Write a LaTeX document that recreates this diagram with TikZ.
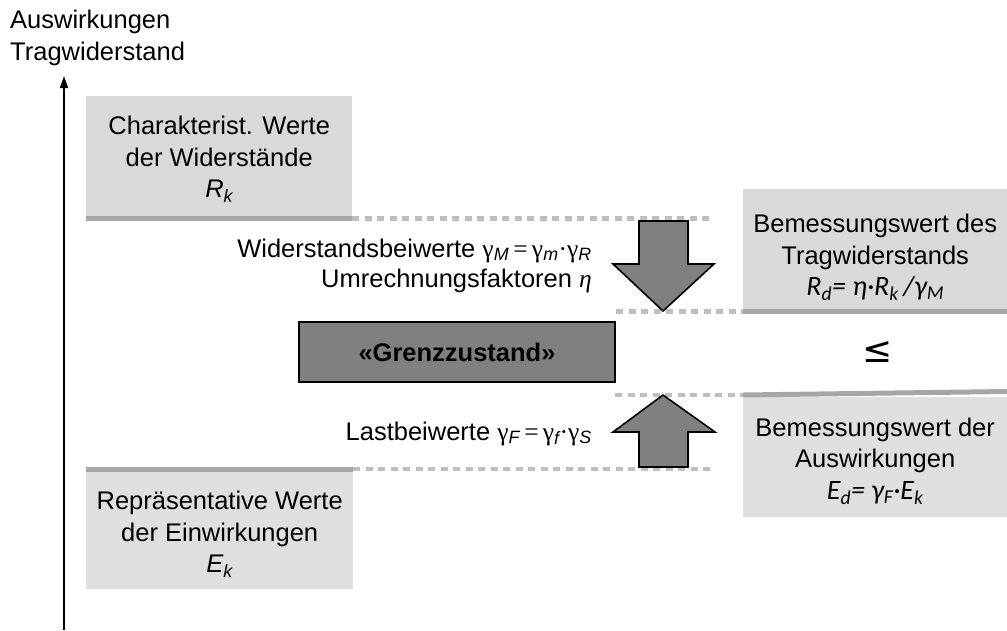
\documentclass[tikz,border=0pt]{standalone}
\usepackage{fontspec}
\setmainfont{Liberation Sans}
\newfontfamily\gfont{Liberation Serif}
\newfontfamily\cfont{Carlito}
\newfontfamily\dvfont{DejaVu Sans}
\usetikzlibrary{arrows.meta}
\definecolor{boxgray}{HTML}{D9D9D9}
\definecolor{boxgraylt}{HTML}{DFDFDF}
\definecolor{bargray}{HTML}{A6A6A6}
\definecolor{dotgray}{HTML}{BFBFBF}
\definecolor{arrgray}{HTML}{808080}
\newcommand{\gsym}[1]{{\gfont γ}\textsubscript{\itshape #1}}
\tikzset{
  txt/.style={font=\fontsize{25.5}{31.5}\selectfont, align=center, inner sep=0pt},
  valbox/.style={fill=boxgray, draw=none, inner sep=0pt, minimum width=#1},
  bar/.style={draw=bargray, line width=5pt},
  dotline/.style={draw=dotgray, line width=4.5pt, dash pattern=on 7pt off 5.5pt},
  blockarrow/.style={fill=arrgray, draw=black, line width=1.6pt, line join=miter},
  formula/.style={font=\cfont\itshape\fontsize{28}{31.5}\selectfont},
}
\begin{document}
\begin{tikzpicture}[x=1pt,y=-1pt]
\useasboundingbox (0,0) rectangle (1007,630);

% axis
\coordinate (axbot) at (64,630);
\coordinate (axtop) at (64,76);
\draw[line width=1.6pt, -{Triangle[length=12pt,width=8pt]}] (axbot) -- (axtop);
\node[txt, anchor=north west, align=left] (title) at (10,10) {Auswirkungen\\Tragwiderstand};

% top-left box
\node[valbox=266, fill=boxgray, minimum height=120, anchor=north west] (rk) at (86,96) {};
\node[txt] (rktxt) at ([yshift=-3pt]rk.center) {Charakterist. Werte\\der Widerstände\\{\itshape R\textsubscript{k}}};
\coordinate (rkbarL) at (86,218.5);
\coordinate (rkbarR) at (352,218.5);
\coordinate (rkdotR) at (712,218.5);
\draw[dotline] (rkbarR) -- (rkdotR);
\draw[bar] (rkbarL) -- (rkbarR);

% top-right box
\node[valbox=264, fill=boxgray, minimum height=121, anchor=north west] (rd) at (743,189) {};
\node[txt] (rdtxt) at ([yshift=-8pt]rd.center) {Bemessungswert des\\Tragwiderstands\\{\cfont\itshape\fontsize{28}{31.5}\selectfont R\textsubscript{d}= η·R\textsubscript{k}\,/γ\textsubscript{M}}};
\coordinate (rdbarL) at (743,311.5);
\coordinate (rdbarR) at (1007,311.5);
\coordinate (rddotL) at (616,311.5);
\draw[dotline] (rddotL) -- (rdbarL);
\draw[bar] (rdbarL) -- (rdbarR);

% bottom-right box
\node[valbox=264, fill=boxgraylt, minimum height=120, anchor=north west] (ed) at (743,397) {};
\node[txt] (edtxt) at ([yshift=-4pt]ed.center) {Bemessungswert der\\Auswirkungen\\{\cfont\itshape\fontsize{28}{31.5}\selectfont E\textsubscript{d}= γ\textsubscript{F}·E\textsubscript{k}}};
\coordinate (edbarL) at (743,395);
\coordinate (edbarR) at (1007,391.5);
\coordinate (eddotL) at (615,395);
\draw[dotline] (eddotL) -- (edbarL);
\draw[bar] (edbarL) -- (edbarR);

% bottom-left box
\node[valbox=267, fill=boxgraylt, minimum height=118, anchor=north west] (ek) at (86,471) {};
\node[txt] (ektxt) at ([yshift=-4pt]ek.center) {Repräsentative Werte\\der Einwirkungen\\{\itshape E\textsubscript{k}}};
\coordinate (ekbarL) at (86,469);
\coordinate (ekbarR) at (353,469);
\coordinate (ekdotR) at (712,469);
\draw[dotline] (ekbarR) -- (ekdotR);
\draw[bar] (ekbarL) -- (ekbarR);

% block arrows
\draw[blockarrow] (639,221) -- (688,221) -- (688,264) -- (714,264) -- (663,311) -- (613,264) -- (639,264) -- cycle;
\draw[blockarrow] (663,395) -- (715,432) -- (688,432) -- (688,467) -- (639,467) -- (639,432) -- (613,432) -- cycle;

% limit state
\node[draw=black, line width=1.6pt, fill=arrgray, minimum width=316, minimum height=60, inner sep=0pt, font=\fontsize{25.5}{30}\selectfont\bfseries] (gz) at (457,352) {«Grenzzustand»};

\node[font=\dvfont\fontsize{36}{40}\selectfont, inner sep=0pt] (leq) at (878,352) {≤};

% factor labels
\node[txt, anchor=base east] (wb) at (592,257) {Widerstandsbeiwerte \gsym{M}\,{\gfont =}\,\gsym{m}{\gfont ·}\gsym{R}};
\node[txt, anchor=base east] (uf) at (592,287) {Umrechnungsfaktoren {\gfont\itshape η}};
\node[txt, anchor=base east] (lb) at (592,440) {Lastbeiwerte \gsym{F}\,{\gfont =}\,\gsym{f}{\gfont ·}\gsym{S}};
\end{tikzpicture}
\end{document}
